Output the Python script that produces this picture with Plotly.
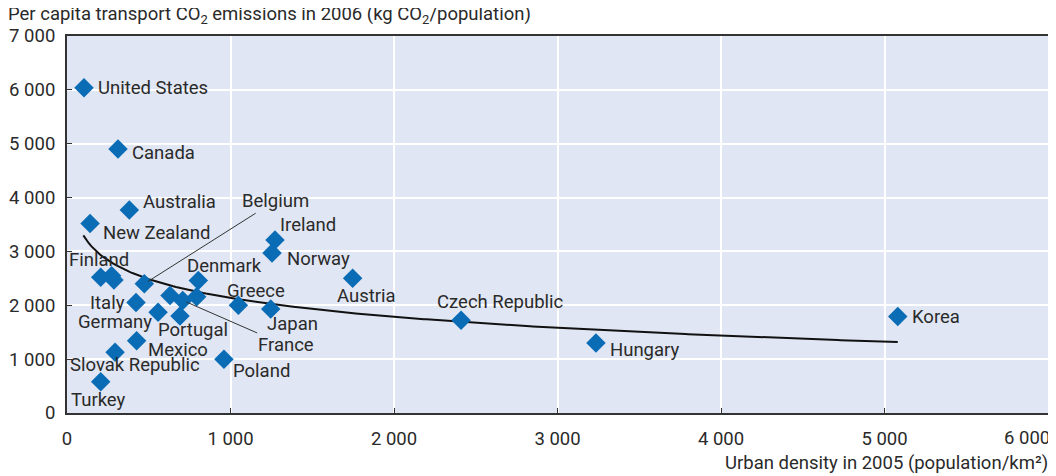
import numpy as np
import plotly.graph_objects as go

# Data
labels = ["United States", "Canada", "Australia", "New Zealand", "Finland", "", "",
          "Belgium", "Denmark", "", "", "France", "Italy", "Germany", "Portugal",
          "Mexico", "Slovak Republic", "Turkey", "Poland", "Greece", "Japan",
          "Ireland", "Norway", "Austria", "Czech Republic", "Hungary", "Korea"]
density = [104, 312, 381, 141, 206, 273, 287,
           473, 803, 630, 793, 708, 422, 557, 691,
           426, 294, 206, 960, 1048, 1246,
           1272, 1254, 1747, 2410, 3235, 5081]
emissions = [6040, 4900, 3770, 3520, 2520, 2550, 2470,
             2400, 2460, 2180, 2160, 2090, 2050, 1870, 1800,
             1340, 1130, 580, 1000, 2000, 1930,
             3210, 2970, 2500, 1720, 1300, 1790]

x_ticks = [0, 1000, 2000, 3000, 4000, 5000, 6000]
x_ticktext = ["0", "1 000", "2 000", "3 000", "4 000", "5 000", "6 000"]
y_ticks = [0, 1000, 2000, 3000, 4000, 5000, 6000, 7000]
y_ticktext = ["0", "1 000", "2 000", "3 000", "4 000", "5 000", "6 000", "7 000"]

# label placement: (xshift, yshift, xanchor)
label_pos = {
    "United States": (12, 0, "left"), "Canada": (12, -4, "left"),
    "Australia": (12, 8, "left"), "New Zealand": (11, -10, "left"),
    "Finland": (-2, 17, "center"), "Italy": (-9, 0, "right"),
    "Germany": (-4, -10, "right"), "Portugal": (13, -14, "center"),
    "Mexico": (9, -9, "left"), "Slovak Republic": (20, -13, "center"),
    "Turkey": (-2, -18, "center"), "Poland": (7, -12, "left"),
    "Denmark": (26, 15, "center"), "Greece": (18, 14, "center"),
    "Japan": (22, -15, "center"), "Ireland": (33, 15, "center"),
    "Norway": (13, -6, "left"), "Austria": (14, -18, "center"),
    "Czech Republic": (39, 18, "center"), "Hungary": (12, -7, "left"),
    "Korea": (12, 0, "left"),
}
leader = {"Belgium": (131, -83), "France": (103, 45)}

FONT = "Roboto, Liberation Sans, sans-serif"
FS = 18.5
TXT = "#2a2a2a"

# logarithmic trend fitted to the data
lx = np.log(np.array(density, dtype=float))
b, a = np.polyfit(lx, np.array(emissions, dtype=float), 1)
xt = np.linspace(100, 5081, 300)
yt = a + b * np.log(xt)

fig = go.Figure()
fig.add_trace(go.Scatter(x=xt, y=yt, mode="lines",
                         line=dict(color="#111111", width=2), hoverinfo="skip"))
fig.add_trace(go.Scatter(x=density, y=emissions, mode="markers",
                         marker=dict(symbol="diamond", size=15, color="#0b6cb6"),
                         text=labels))

for lab, xv, yv in zip(labels, density, emissions):
    if not lab:
        continue
    if lab in leader:
        ax, ay = leader[lab]
        fig.add_annotation(x=xv, y=yv, text=lab, showarrow=True, arrowhead=0,
                           arrowwidth=1, arrowcolor="#333333", ax=ax, ay=ay,
                           standoff=4, font=dict(family=FONT, size=FS, color=TXT))
    else:
        xs, ys, anc = label_pos[lab]
        fig.add_annotation(x=xv, y=yv, text=lab, showarrow=False, xanchor=anc,
                           xshift=xs, yshift=ys,
                           font=dict(family=FONT, size=FS, color=TXT))

# last x tick label sits flush with the right edge, as in the reference
fig.add_annotation(x=x_ticks[-1], xref="x", yref="paper", y=0, yanchor="top",
                   yshift=-12, xanchor="right", xshift=4, showarrow=False,
                   text=x_ticktext[-1], font=dict(family=FONT, size=FS, color=TXT))

# the page places the figure 8 px in from the top-left corner
fig.add_annotation(xref="paper", yref="paper", x=-0.062, y=1.056, xanchor="left",
                   yanchor="middle", showarrow=False,
                   text="Per capita transport CO<sub>2</sub> emissions in 2006 (kg CO<sub>2</sub>/population)",
                   font=dict(family=FONT, size=FS, color=TXT))
fig.add_annotation(xref="paper", yref="paper", x=1.002, y=-0.133, xanchor="right",
                   yanchor="middle", showarrow=False,
                   text="Urban density in 2005 (population/km²)",
                   font=dict(family=FONT, size=FS, color=TXT))

fig.update_layout(
    width=1048, height=468, showlegend=False,
    margin=dict(l=59, r=8, t=28, b=63, autoexpand=False),
    paper_bgcolor="white", plot_bgcolor="#e0e6f3",
    font=dict(family=FONT, size=FS, color=TXT),
)
fig.update_xaxes(range=[0, 6000], tickvals=x_ticks,
                 ticktext=x_ticktext[:-1] + [""],
                 automargin=False,
                 showgrid=True, gridcolor="white", gridwidth=1.5,
                 showline=True, linecolor="#333333", linewidth=2, mirror=True,
                 ticks="inside", ticklen=5, tickcolor="#333333", zeroline=False,
                 ticklabelstandoff=8)
fig.update_yaxes(range=[0, 7000], tickvals=y_ticks, ticktext=y_ticktext,
                 automargin=False,
                 showgrid=True, gridcolor="white", gridwidth=1.5,
                 showline=True, linecolor="#333333", linewidth=2, mirror=True,
                 ticks="inside", ticklen=5, tickcolor="#333333", zeroline=False,
                 ticklabelstandoff=6)

fig.write_html("out.html")
